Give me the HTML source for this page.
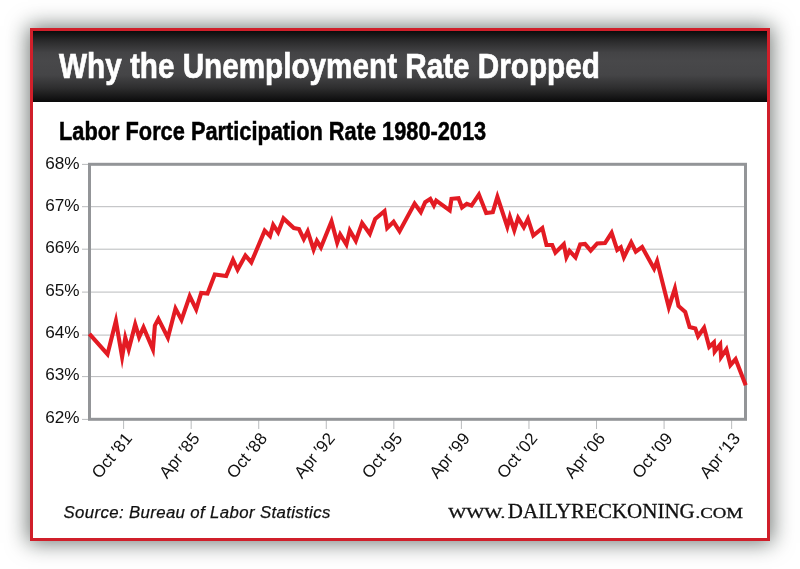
<!DOCTYPE html>
<html lang="en"><head><meta charset="utf-8"><title>Why the Unemployment Rate Dropped</title>
<style>
html,body{margin:0;padding:0;background:#fff;}
body{width:800px;height:569px;overflow:hidden;position:relative;font-family:"Liberation Sans",sans-serif;}
#card{position:absolute;left:30px;top:28px;width:734px;height:507px;border:3px solid #d01f2a;background:#fff;box-shadow:0 0 20px 2px rgba(10,20,16,.58);}
#hdr{position:absolute;left:0;top:0;width:734px;height:71.4px;background:linear-gradient(to bottom,#0c0c0c 0%,#2a2a2b 14%,#434345 30%,#48484a 42%,#454547 62%,#2e2e2f 80%,#0a0a0a 100%);}
#title{position:absolute;left:25.6px;top:9.5px;-webkit-text-stroke:0.7px #fff;margin:0;color:#fff;font-weight:bold;font-size:35.5px;line-height:50px;white-space:nowrap;transform-origin:0 0;transform:scaleX(.836);letter-spacing:0;}
#sub{position:absolute;left:25.6px;top:80.3px;-webkit-text-stroke:0.5px #000;margin:0;color:#000;font-weight:bold;font-size:25px;line-height:40px;white-space:nowrap;transform-origin:0 0;transform:scaleX(.871);}
svg{position:absolute;left:0;top:0;}
.ax{font-family:"Liberation Sans",sans-serif;font-size:16.3px;fill:#111;}
.xl{word-spacing:-0.5px;font-size:17px;}
.site{font-family:"Liberation Serif",serif;fill:#111;stroke:#111;stroke-width:.3px;}
#src{-webkit-text-stroke:.25px #111;position:absolute;left:63.5px;top:500.8px;font-style:italic;font-size:16.8px;letter-spacing:.37px;line-height:24px;color:#111;white-space:nowrap;transform-origin:0 0;}
#site{position:absolute;left:448.5px;top:498px;font-family:"Liberation Serif",serif;font-size:20.5px;line-height:26px;color:#111;white-space:nowrap;text-transform:uppercase;transform-origin:0 0;}
#site .sc{font-size:15.2px;}
</style></head><body>
<div id="card"><div id="hdr"></div>
<h1 id="title">Why the Unemployment Rate Dropped</h1>
<h2 id="sub">Labor Force Participation Rate 1980-2013</h2>
</div>
<svg width="800" height="569" viewBox="0 0 800 569">
<line x1="89.5" x2="745.5" y1="206.7" y2="206.7" stroke="#b1b3b6" stroke-width="0.9"/>
<line x1="89.5" x2="745.5" y1="249.2" y2="249.2" stroke="#b1b3b6" stroke-width="0.9"/>
<line x1="89.5" x2="745.5" y1="292.1" y2="292.1" stroke="#b1b3b6" stroke-width="0.9"/>
<line x1="89.5" x2="745.5" y1="335.1" y2="335.1" stroke="#b1b3b6" stroke-width="0.9"/>
<line x1="89.5" x2="745.5" y1="376.6" y2="376.6" stroke="#b1b3b6" stroke-width="0.9"/>
<line x1="82" x2="89" y1="164.4" y2="164.4" stroke="#a7a9ac" stroke-width="0.8"/>
<line x1="82" x2="89" y1="206.7" y2="206.7" stroke="#a7a9ac" stroke-width="0.8"/>
<line x1="82" x2="89" y1="249.2" y2="249.2" stroke="#a7a9ac" stroke-width="0.8"/>
<line x1="82" x2="89" y1="292.1" y2="292.1" stroke="#a7a9ac" stroke-width="0.8"/>
<line x1="82" x2="89" y1="335.1" y2="335.1" stroke="#a7a9ac" stroke-width="0.8"/>
<line x1="82" x2="89" y1="376.6" y2="376.6" stroke="#a7a9ac" stroke-width="0.8"/>
<line x1="82" x2="89" y1="419.4" y2="419.4" stroke="#a7a9ac" stroke-width="0.8"/>
<line x1="123.60" x2="123.60" y1="420" y2="429" stroke="#a7a9ac" stroke-width="0.8"/>
<line x1="191.16" x2="191.16" y1="420" y2="429" stroke="#a7a9ac" stroke-width="0.8"/>
<line x1="258.72" x2="258.72" y1="420" y2="429" stroke="#a7a9ac" stroke-width="0.8"/>
<line x1="326.28" x2="326.28" y1="420" y2="429" stroke="#a7a9ac" stroke-width="0.8"/>
<line x1="393.84" x2="393.84" y1="420" y2="429" stroke="#a7a9ac" stroke-width="0.8"/>
<line x1="461.40" x2="461.40" y1="420" y2="429" stroke="#a7a9ac" stroke-width="0.8"/>
<line x1="528.96" x2="528.96" y1="420" y2="429" stroke="#a7a9ac" stroke-width="0.8"/>
<line x1="596.52" x2="596.52" y1="420" y2="429" stroke="#a7a9ac" stroke-width="0.8"/>
<line x1="664.08" x2="664.08" y1="420" y2="429" stroke="#a7a9ac" stroke-width="0.8"/>
<line x1="731.64" x2="731.64" y1="420" y2="429" stroke="#a7a9ac" stroke-width="0.8"/>
<rect x="89.5" y="164.3" width="656" height="255" fill="none" stroke="#939598" stroke-width="3"/>
<polyline fill="none" stroke="#e31b23" stroke-width="4.1" stroke-linejoin="miter" stroke-miterlimit="10" points="89.4,333.8 107.5,354.2 115.9,320.9 122.1,357.0 125.3,337.8 128.7,349.5 135.2,324.4 139.1,337.2 143.5,327.4 152.9,349.4 154.9,325.5 158.4,318.9 167.9,337.7 175.5,308.6 181.5,319.9 189.7,296.0 196.2,309.4 201.2,292.9 207.5,293.6 214.8,274.4 226.2,276.0 233.0,259.8 237.6,269.8 245.4,255.5 251.3,262.4 264.7,230.6 270.0,236.0 273.2,224.9 278.1,232.3 283.5,218.4 293.8,228.1 299.0,229.0 303.8,239.1 307.7,231.4 313.6,249.5 316.9,240.9 320.9,247.4 331.5,221.4 337.2,242.6 340.2,234.4 346.4,244.5 349.8,230.4 355.8,240.8 362.1,223.1 369.8,233.8 375.2,219.0 384.5,211.2 387.2,228.1 393.6,221.8 399.6,231.3 414.6,203.6 420.8,212.2 425.2,202.2 430.3,198.9 433.9,205.5 436.2,200.6 449.7,210.4 451.5,198.8 458.5,198.1 462.0,207.4 466.8,203.8 471.5,205.6 478.9,194.6 486.2,213.1 492.8,212.2 497.4,196.8 507.3,226.7 509.9,216.9 514.3,230.2 518.1,218.0 523.8,227.3 527.9,218.9 533.3,235.5 542.3,228.1 546.5,245.0 552.2,245.0 555.4,252.6 563.8,244.2 566.4,257.2 569.5,250.9 575.5,257.4 580.2,244.4 585.0,244.0 590.7,250.7 597.2,243.5 605.0,243.1 611.6,232.8 617.2,250.0 620.8,247.3 623.9,257.3 631.2,242.4 635.8,251.6 642.1,247.0 654.1,268.7 657.1,261.1 668.8,307.4 674.9,288.6 678.5,306.0 685.2,311.9 689.6,327.1 695.3,328.4 698.1,336.3 704.1,327.8 709.2,346.9 713.9,342.4 714.7,351.6 720.2,344.5 721.1,357.0 726.4,349.4 730.4,365.2 735.6,359.2 745.7,385.2"/>
<text x="79.6" y="168.8" text-anchor="end" class="ax" textLength="34.4" lengthAdjust="spacingAndGlyphs">68%</text>
<text x="79.6" y="211.1" text-anchor="end" class="ax" textLength="34.4" lengthAdjust="spacingAndGlyphs">67%</text>
<text x="79.6" y="253.4" text-anchor="end" class="ax" textLength="34.4" lengthAdjust="spacingAndGlyphs">66%</text>
<text x="79.6" y="295.7" text-anchor="end" class="ax" textLength="34.4" lengthAdjust="spacingAndGlyphs">65%</text>
<text x="79.6" y="338.0" text-anchor="end" class="ax" textLength="34.4" lengthAdjust="spacingAndGlyphs">64%</text>
<text x="79.6" y="380.3" text-anchor="end" class="ax" textLength="34.4" lengthAdjust="spacingAndGlyphs">63%</text>
<text x="79.6" y="422.6" text-anchor="end" class="ax" textLength="34.4" lengthAdjust="spacingAndGlyphs">62%</text>
<text transform="translate(133.00,438.8) rotate(-50.5)" text-anchor="end" class="ax xl">Oct ′81</text>
<text transform="translate(200.56,438.8) rotate(-50.5)" text-anchor="end" class="ax xl">Apr ′85</text>
<text transform="translate(268.12,438.8) rotate(-50.5)" text-anchor="end" class="ax xl">Oct ′88</text>
<text transform="translate(335.68,438.8) rotate(-50.5)" text-anchor="end" class="ax xl">Apr ′92</text>
<text transform="translate(403.24,438.8) rotate(-50.5)" text-anchor="end" class="ax xl">Oct ′95</text>
<text transform="translate(470.80,438.8) rotate(-50.5)" text-anchor="end" class="ax xl">Apr ′99</text>
<text transform="translate(538.36,438.8) rotate(-50.5)" text-anchor="end" class="ax xl">Oct ′02</text>
<text transform="translate(605.92,438.8) rotate(-50.5)" text-anchor="end" class="ax xl">Apr ′06</text>
<text transform="translate(673.48,438.8) rotate(-50.5)" text-anchor="end" class="ax xl">Oct ′09</text>
<text transform="translate(741.04,438.8) rotate(-50.5)" text-anchor="end" class="ax xl">Apr ′13</text>
<text class="site" x="448.2" y="518.2" font-size="15.2" textLength="57" lengthAdjust="spacingAndGlyphs">WWW.</text>
<text class="site" x="507.8" y="518.2" font-size="20.5" textLength="187" lengthAdjust="spacingAndGlyphs">DAILYRECKONING</text>
<text class="site" x="695.5" y="518.2" font-size="15.2" textLength="47.5" lengthAdjust="spacingAndGlyphs">.COM</text>
</svg>
<div id="src">Source: Bureau of Labor Statistics</div>

</body></html>
